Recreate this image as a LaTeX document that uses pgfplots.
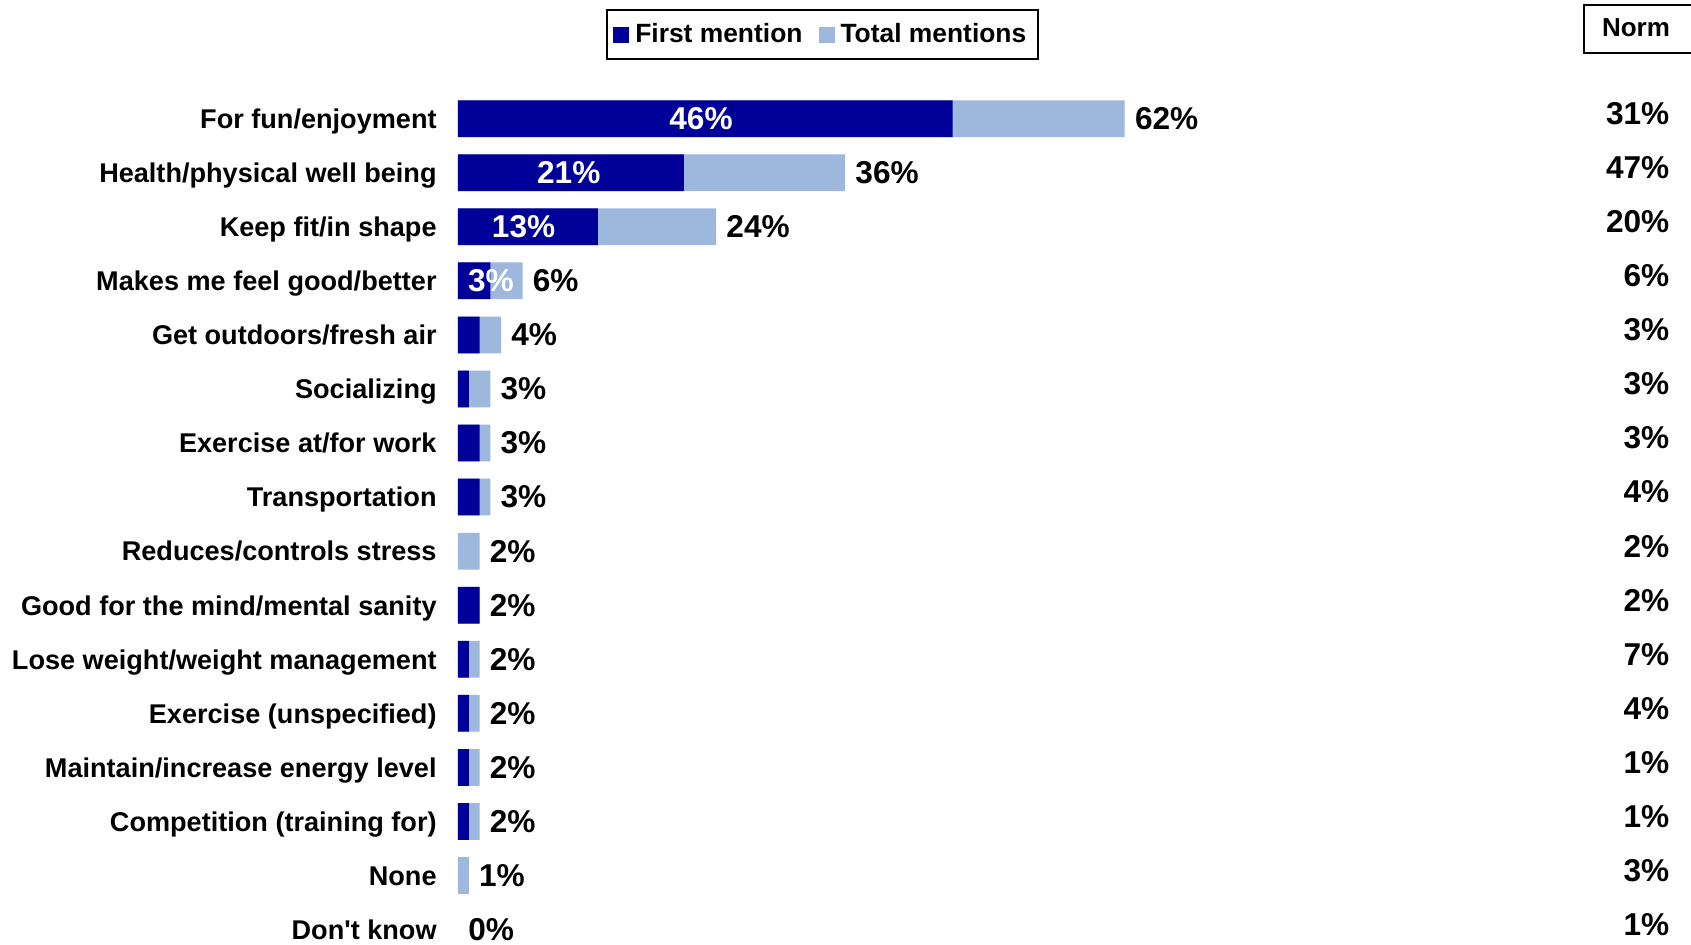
\documentclass[border=0pt]{standalone}
\usepackage{fontspec}
\setmainfont{Liberation Sans}
\usepackage{pgfplots}
\pgfplotsset{compat=1.18}
\definecolor{darkb}{RGB}{0,0,153}
\definecolor{lightb}{RGB}{157,184,220}
\newcommand{\catfont}{\fontsize{13.55}{15}\selectfont\bfseries}
\newcommand{\valfont}{\fontsize{15.8}{18}\selectfont\bfseries}
\begin{document}
\begin{tikzpicture}
\begin{axis}[
  at={(229pt,-45.8pt)}, anchor=north west,
  scale only axis, width=615pt, height=432.5pt,
  xmin=0, xmax=114.4, ymin=-0.5, ymax=15.5, y dir=reverse,
  clip=false,
  axis line style={draw=none},
  major tick length=0pt,
  xtick=\empty,
  ytick={0,...,15},
  yticklabels={For fun/enjoyment, Health/physical well being, Keep fit/in shape, Makes me feel good/better, Get outdoors/fresh air, Socializing, Exercise at/for work, Transportation, Reduces/controls stress, Good for the mind/mental sanity, Lose weight/weight management, Exercise (unspecified), Maintain/increase energy level, Competition (training for), None, {Don\textquotesingle t know}},
  y tick label style={font=\catfont, inner sep=0pt, anchor=base east, xshift=-10.5pt, yshift=-4.9pt},
  legend image code/.code={\fill[#1, draw=none] (0pt,-4pt) rectangle (8pt,4pt);},
  legend columns=2,
  legend style={at={(0.2966,1.066)}, anchor=center, draw=black, line width=1pt,
    font=\fontsize{13.2}{15}\selectfont\bfseries, inner xsep=3pt, inner ysep=5pt,
    /tikz/every even column/.append style={column sep=5pt},
    nodes={inner xsep=3pt, inner ysep=1.5pt}},
]
\addlegendimage{fill=darkb, draw=none}
\addlegendentry{First mention}
\addlegendimage{fill=lightb, draw=none}
\addlegendentry{Total mentions}

% Total mentions
\addplot[xbar, bar width=18.35pt, bar shift=0pt, fill=lightb, draw=none, forget plot,
  point meta=x,
  nodes near coords={\pgfmathprintnumber[fixed,precision=0,assume math mode=true]{\pgfplotspointmeta}\%},
  nodes near coords style={anchor=west, font=\valfont, inner sep=0pt, xshift=5pt, text=black}]
coordinates {(62,0) (36,1) (24,2) (6,3) (4,4) (3,5) (3,6) (3,7) (2,8) (2,9) (2,10) (2,11) (2,12) (2,13) (1,14)};

% First mention (zero values omitted: no bar)
\addplot[xbar, bar width=18.35pt, bar shift=0pt, fill=darkb, draw=none, forget plot]
coordinates {(46,0) (21,1) (13,2) (3,3) (2,4) (1,5) (2,6) (2,7) (2,9) (1,10) (1,11) (1,12) (1,13)};

% label of the zero total (Don't know)
\addplot[draw=none, mark=none, forget plot, point meta=explicit symbolic,
  nodes near coords, nodes near coords style={anchor=west, font=\valfont, text=black, inner sep=0pt, xshift=5pt}]
coordinates {(0,15) [0\%]};

% labels inside first-mention bars
\addplot[draw=none, mark=none, forget plot, point meta=explicit symbolic,
  nodes near coords, nodes near coords style={anchor=center, font=\valfont, text=white, inner sep=0pt}]
coordinates {(22.6,0) [46\%] (10.3,1) [21\%] (6.1,2) [13\%] (3.07,3) [3\%]};

% Norm column
\addplot[draw=none, mark=none, forget plot, point meta=explicit symbolic,
  nodes near coords, nodes near coords style={anchor=east, font=\valfont, text=black, inner sep=0pt, yshift=2.5pt}]
coordinates {(112.7,0) [31\%] (112.7,1) [47\%] (112.7,2) [20\%] (112.7,3) [6\%] (112.7,4) [3\%] (112.7,5) [3\%] (112.7,6) [3\%] (112.7,7) [4\%] (112.7,8) [2\%] (112.7,9) [2\%] (112.7,10) [7\%] (112.7,11) [4\%] (112.7,12) [1\%] (112.7,13) [1\%] (112.7,14) [3\%] (112.7,15) [1\%]};
\end{axis}
\draw[line width=1pt] (846pt,-2.3pt) -- (792pt,-2.3pt) -- (792pt,-26.5pt) -- (846pt,-26.5pt);
\node[font=\fontsize{13}{15}\selectfont\bfseries, anchor=center, inner sep=0pt] at (818pt,-14pt) {Norm};
\pgfresetboundingbox
\useasboundingbox (0pt,0pt) rectangle (845.5pt,-472pt);
\end{tikzpicture}
\end{document}
